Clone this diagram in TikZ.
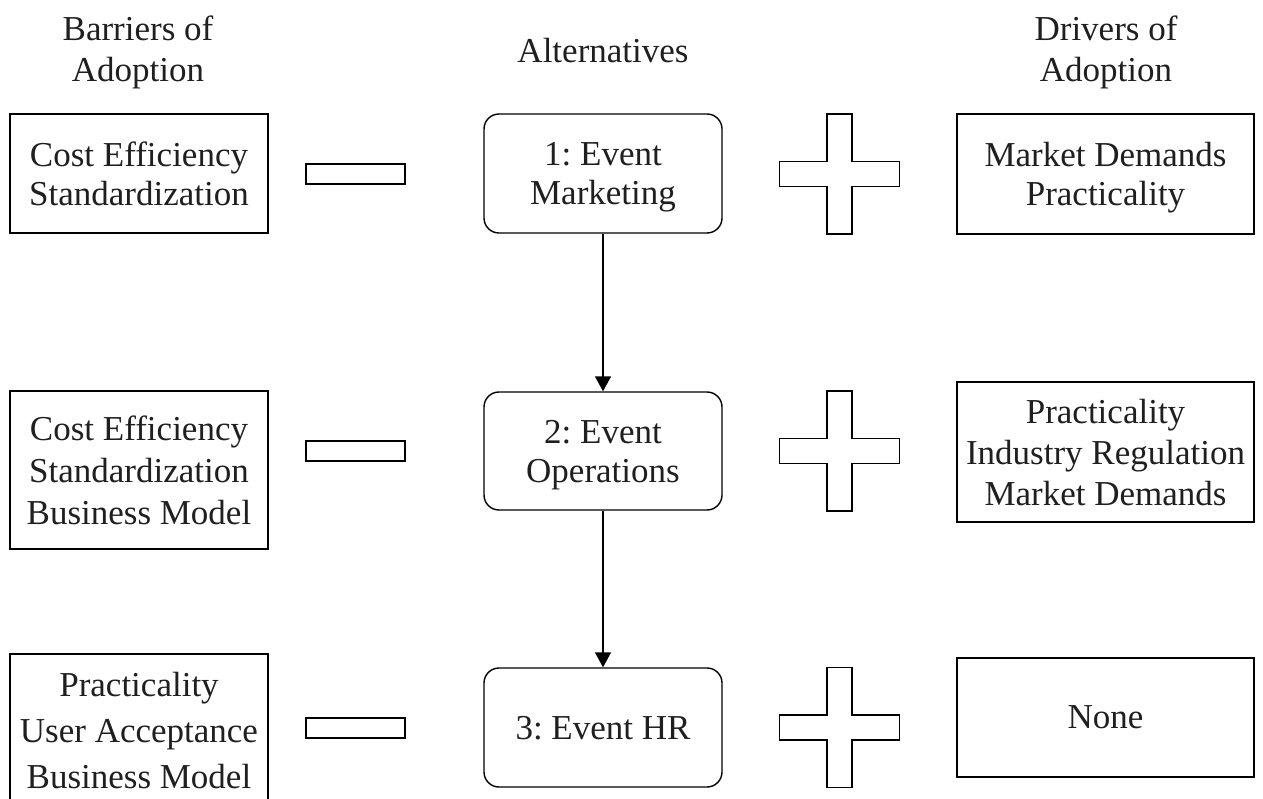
\documentclass[tikz,border=0pt]{standalone}
\usepackage{fontspec}
\setmainfont{Liberation Serif}
\usetikzlibrary{arrows.meta}

\tikzset{
  lbl/.style={font=\fontsize{35}{39}\selectfont\frenchspacing, align=center,
    inner sep=0pt, text=black!88, text depth=0pt},
  sidebox/.style={lbl, draw, line width=1.4pt, minimum width=258pt},
  drvbox/.style={lbl, draw, line width=1.4pt, minimum width=297pt},
  altbox/.style={lbl, draw, line width=1.4pt, rounded corners=15pt, minimum width=238pt},
  minusbar/.style={draw, line width=1.4pt, inner sep=0pt, minimum width=99pt, minimum height=20pt},
  flow/.style={line width=1.4pt, -{Triangle[length=15pt,width=16pt]}},
  plussign/.pic={
    \draw[line width=1.4pt]
      (-12.5,-60) -- (12.5,-60) -- (12.5,-12.5) -- (60,-12.5) -- (60,12.5)
      -- (12.5,12.5) -- (12.5,60) -- (-12.5,60) -- (-12.5,12.5) -- (-60,12.5)
      -- (-60,-12.5) -- (-12.5,-12.5) -- cycle;
  }
}

\begin{document}
\begin{tikzpicture}[x=1pt,y=-1pt]
  \useasboundingbox (0,0) rectangle (1263,799);
  \clip (0,0) rectangle (1263,799);

  % column headings
  \node[lbl, font=\fontsize{35}{41}\selectfont] (hb) at (138,49) {Barriers of\\Adoption};
  \node[lbl] (ha) at (603,50) {Alternatives};
  \node[lbl, font=\fontsize{35}{41}\selectfont] (hd) at (1106,49) {Drivers of\\Adoption};

  % barriers
  \node[sidebox, minimum height=119pt] (b1) at (139,173.5) {Cost Efficiency\\Standardization};
  \node[sidebox, minimum height=158pt, font=\fontsize{35}{42}\selectfont] (b2) at (139,470) {Cost Efficiency\\Standardization\\Business Model};
  \node[sidebox, minimum height=152pt, font=\fontsize{35}{46}\selectfont] (b3) at (139,730) {Practicality\\User Acceptance\\Business Model};

  % minus signs
  \node[minusbar] (m1) at (355.5,174) {};
  \node[minusbar] (m2) at (355.5,451) {};
  \node[minusbar] (m3) at (355.5,728) {};

  % alternatives
  \node[altbox, minimum height=119pt] (a1) at (603,173.5) {1: Event\\Marketing};
  \node[altbox, minimum height=118pt] (a2) at (603,451) {2: Event\\Operations};
  \node[altbox, minimum height=119pt] (a3) at (603,727.5) {3: Event HR};

  \draw[flow] (a1) -- (a2);
  \draw[flow] (a2) -- (a3);

  % plus signs
  \pic at (839.5,174) {plussign};
  \pic at (839.5,451) {plussign};
  \pic at (839.5,727.5) {plussign};

  % drivers
  \node[drvbox, minimum height=120pt] (d1) at (1105.5,174) {Market Demands\\Practicality};
  \node[drvbox, minimum height=140pt, font=\fontsize{35}{41}\selectfont] (d2) at (1105.5,452) {Practicality\\Industry Regulation\\Market Demands};
  \node[drvbox, minimum height=119pt] (d3) at (1105.5,717.5) {None};
\end{tikzpicture}
\end{document}
